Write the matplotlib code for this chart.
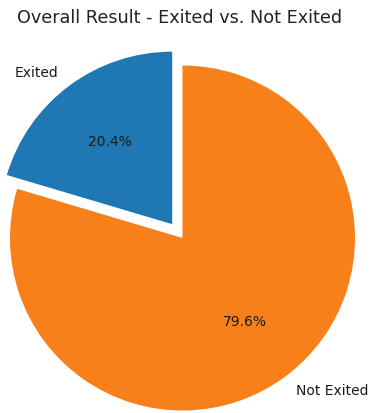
import matplotlib
matplotlib.use("Agg")
import matplotlib.pyplot as plt

labels = ["Exited", "Not Exited"]
shares = [20.4, 79.6]
explode = [0.1, 0]
colors = ["#1f77b4", "#f8801a"]

W, H = 379, 414
cx, cy, r = 182.5, 239.0, 172.5   # pie centre and radius in pixels

fig = plt.figure(figsize=(W / 100, H / 100), dpi=100)
ax = fig.add_axes([0, 0, 1, 1])
ax.pie(shares, labels=labels, explode=explode, colors=colors,
       autopct="%1.1f%%", startangle=90,
       textprops={"fontsize": 10, "color": "#1a1a1a"})
ax.set_xlim(-cx / r, (W - cx) / r)
ax.set_ylim(-(H - cy) / r, cy / r)
ax.set_aspect("auto")
ax.axis("off")

fig.text(180 / W, 1 - 18 / H, "Overall Result - Exited vs. Not Exited",
         ha="center", va="center", fontsize=12.7, color="#222222")

fig.savefig("out.png", dpi=100)
